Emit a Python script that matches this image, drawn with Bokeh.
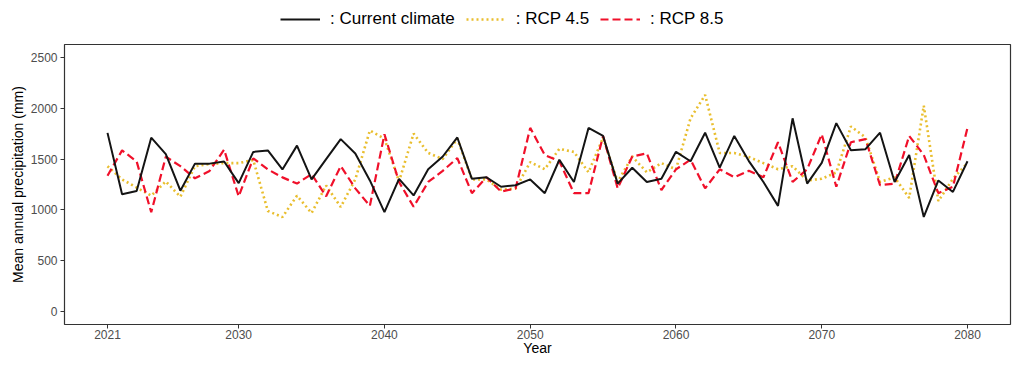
from bokeh.plotting import figure
from bokeh.layouts import column
from bokeh.models import Range1d, FixedTicker, Legend, LegendItem
from bokeh.embed import file_html
from bokeh.resources import INLINE

years = list(range(2021, 2081))

current = [1757, 1155, 1186, 1710, 1548, 1189, 1455, 1455, 1476, 1264,
           1570, 1585, 1398, 1632, 1300, 1500, 1696, 1555, 1290, 978,
           1306, 1143, 1399, 1525, 1712, 1306, 1321, 1228, 1243, 1300,
           1165, 1493, 1275, 1806, 1727, 1259, 1415, 1275, 1306, 1571,
           1478, 1759, 1415, 1727, 1480, 1275, 1040, 1900, 1259, 1462,
           1853, 1587, 1597, 1759, 1275, 1540, 931, 1290, 1177, 1478]

rcp45 = [1430, 1300, 1220, 1140, 1280, 1130, 1430, 1450, 1460, 1460,
         1490, 990, 930, 1140, 970, 1240, 1030, 1300, 1780, 1700,
         1280, 1750, 1560, 1500, 1700, 1300, 1300, 1200, 1210, 1470,
         1400, 1600, 1570, 1370, 1710, 1275, 1525, 1370, 1460, 1400,
         1900, 2130, 1560, 1560, 1520, 1460, 1400, 1430, 1290, 1306,
         1368, 1820, 1712, 1275, 1320, 1118, 2025, 1087, 1306, 1462]

rcp85 = [1336, 1585, 1476, 977, 1523, 1430, 1311, 1383, 1592, 1133,
         1507, 1398, 1320, 1259, 1352, 1134, 1431, 1212, 1040, 1743,
         1275, 1031, 1275, 1384, 1509, 1165, 1321, 1181, 1212, 1806,
         1540, 1478, 1165, 1165, 1727, 1212, 1525, 1556, 1196, 1399,
         1493, 1212, 1399, 1321, 1384, 1321, 1665, 1275, 1399, 1743,
         1228, 1665, 1696, 1243, 1259, 1727, 1540, 1165, 1228, 1806]

x_ticks = [2021, 2030, 2040, 2050, 2060, 2070, 2080]
y_ticks = [0, 500, 1000, 1500, 2000, 2500]
labels = [": Current climate", ": RCP 4.5", ": RCP 8.5"]
series = [current, rcp45, rcp85]

FONT = "Liberation Sans"
STYLES = [dict(line_color="#141414", line_width=2.0),
          dict(line_color="#E9BE2E", line_width=2.6, line_dash="2 3"),
          dict(line_color="#F0102A", line_width=2.2, line_dash="8 4")]

# ---- main plot ----
p = figure(width=1012, height=320, output_backend="svg", toolbar_location=None,
           x_range=Range1d(2018.05, 2082.95), y_range=Range1d(-125, 2625),
           min_border_left=64, min_border_right=2, min_border_top=6,
           min_border_bottom=28)
p.background_fill_color = "white"
p.border_fill_color = "white"
p.outline_line_color = "#333333"
p.outline_line_width = 1.2
p.xgrid.visible = False
p.ygrid.visible = False

p.line(years, rcp45, **STYLES[1])
p.line(years, rcp85, **STYLES[2])
p.line(years, current, **STYLES[0])

for ax in (p.xaxis[0], p.yaxis[0]):
    ax.axis_line_color = None
    ax.major_tick_line_color = "#333333"
    ax.major_tick_out = 4
    ax.major_tick_in = 0
    ax.minor_tick_line_color = None
    ax.major_label_text_font = FONT
    ax.major_label_text_font_size = "12px"
    ax.major_label_text_color = "#4D4D4D"
    ax.axis_label_text_font = FONT
    ax.axis_label_text_font_size = "14px"
    ax.axis_label_text_font_style = "normal"
    ax.axis_label_text_color = "black"

p.xaxis.ticker = FixedTicker(ticks=x_ticks)
p.yaxis.ticker = FixedTicker(ticks=y_ticks)
p.xaxis.axis_label = "Year"
p.yaxis.axis_label = "Mean annual precipitation (mm)"
p.xaxis.major_label_standoff = 1
p.xaxis.axis_label_standoff = -2
p.yaxis.major_label_standoff = 3
p.yaxis.axis_label_standoff = 2

# ---- legend strip above the plot (series lie outside its ranges) ----
lg = figure(width=1012, height=38, output_backend="svg", toolbar_location=None,
            x_range=Range1d(0, 1), y_range=Range1d(0, 1),
            min_border=0, x_axis_type=None, y_axis_type=None)
lg.outline_line_color = None
lg.xgrid.visible = False
lg.ygrid.visible = False
lg.border_fill_color = "white"
lg.background_fill_color = "white"
keys = [lg.line(years, series[i], **STYLES[i]) for i in range(3)]

legend = Legend(items=[LegendItem(label=labels[i], renderers=[keys[i]]) for i in range(3)],
                orientation="horizontal", location=(216, 9),
                glyph_width=40, glyph_height=20, label_height=20,
                label_standoff=10, spacing=11, padding=0, margin=0,
                label_text_font=FONT, label_text_font_size="17px",
                label_text_color="black",
                border_line_color=None, background_fill_alpha=0)
lg.add_layout(legend, "center")

layout = column(lg, p, spacing=0)
open("out.html", "w").write(file_html(layout, INLINE))
